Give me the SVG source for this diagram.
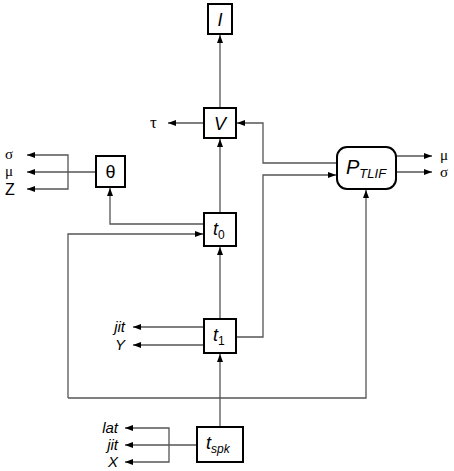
<svg xmlns="http://www.w3.org/2000/svg" width="454" height="471" viewBox="0 0 454 471">
<style>
.box{fill:#fff;stroke:#000;stroke-width:2}
.ln{fill:none;stroke:#555;stroke-width:1.3}
.lb{font-family:"Liberation Sans",Arial,sans-serif;font-style:italic;font-size:18px;fill:#000}
.sb{font-size:12px}
.side{font-family:"Liberation Sans",Arial,sans-serif;font-style:italic;font-size:15px;fill:#000}
.gr{font-family:"Liberation Serif","Times New Roman",serif;font-size:15px;fill:#000}
</style>
<defs>
<marker id="ar" viewBox="0 0 8 6" refX="8" refY="3" markerWidth="8" markerHeight="6" markerUnits="userSpaceOnUse" orient="auto">
<path d="M0,0 L8,3 L0,6 Z" fill="#000"/>
</marker>
</defs>
<g id="connectors">
<path class="ln" d="M220,108 V35" marker-end="url(#ar)"/>
<path class="ln" d="M204,123 H168" marker-end="url(#ar)"/>
<path class="ln" d="M337,163 H263 V123 H237" marker-end="url(#ar)"/>
<path class="ln" d="M396,156 H432" marker-end="url(#ar)"/>
<path class="ln" d="M396,172 H432" marker-end="url(#ar)"/>
<path class="ln" d="M220,213 V139" marker-end="url(#ar)"/>
<path class="ln" d="M96,172 H27" marker-end="url(#ar)"/>
<path class="ln" d="M68,172 V155 H27" marker-end="url(#ar)"/>
<path class="ln" d="M68,172 V189 H27" marker-end="url(#ar)"/>
<path class="ln" d="M204,224 H110 V188" marker-end="url(#ar)"/>
<path class="ln" d="M220,319 V247" marker-end="url(#ar)"/>
<path class="ln" d="M236,337 H263 V175 H336" marker-end="url(#ar)"/>
<path class="ln" d="M204,327 H133" marker-end="url(#ar)"/>
<path class="ln" d="M204,345 H133" marker-end="url(#ar)"/>
<path class="ln" d="M220,427 V354" marker-end="url(#ar)"/>
<path class="ln" d="M68,398 V234 H203" marker-end="url(#ar)"/>
<path class="ln" d="M68,398 H366 V190" marker-end="url(#ar)"/>
<path class="ln" d="M197,445 H125" marker-end="url(#ar)"/>
<path class="ln" d="M169,445 V428 H125" marker-end="url(#ar)"/>
<path class="ln" d="M169,445 V462 H125" marker-end="url(#ar)"/>
</g>
<g id="node-I">
<rect class="box" x="208" y="4" width="24" height="30"/>
<text class="lb" x="220" y="26" text-anchor="middle">I</text>
</g>
<g id="node-V">
<rect class="box" x="204" y="108" width="32" height="30"/>
<text class="lb" x="220" y="130" text-anchor="middle">V</text>
</g>
<g id="node-theta">
<rect class="box" x="96" y="156" width="29" height="31"/>
<text class="lb" x="110.5" y="178" text-anchor="middle" style="font-style:normal">θ</text>
</g>
<g id="node-P">
<rect class="box" x="337" y="147" width="59" height="42" rx="10"/>
<text class="lb" x="346" y="174" style="font-size:20px">P<tspan class="sb" style="font-size:13px" dy="4">TLIF</tspan></text>
</g>
<g id="node-t0">
<rect class="box" x="204" y="213" width="32" height="33"/>
<text class="lb" x="213" y="235">t<tspan class="sb" dy="4" style="font-style:normal">0</tspan></text>
</g>
<g id="node-t1">
<rect class="box" x="204" y="319" width="32" height="34"/>
<text class="lb" x="213" y="341">t<tspan class="sb" dy="4" style="font-style:normal">1</tspan></text>
</g>
<g id="node-tspk">
<rect class="box" x="197" y="427" width="46" height="35"/>
<text class="lb" x="206" y="449">t<tspan class="sb" dy="4">spk</tspan></text>
</g>
<g id="labels">
<text class="gr" x="150" y="128" style="font-size:17px">τ</text>
<text class="gr" x="440" y="160">μ</text>
<text class="gr" x="440" y="177">σ</text>
<text class="gr" x="5" y="159">σ</text>
<text class="gr" x="5" y="176">μ</text>
<text class="side" x="5" y="195" style="font-style:normal;font-size:16px">Z</text>
<text class="side" x="125" y="332" text-anchor="end">jit</text>
<text class="side" x="125" y="350" text-anchor="end">Y</text>
<text class="side" x="118" y="433" text-anchor="end">lat</text>
<text class="side" x="118" y="450" text-anchor="end">jit</text>
<text class="side" x="118" y="467" text-anchor="end">X</text>
</g>
</svg>
